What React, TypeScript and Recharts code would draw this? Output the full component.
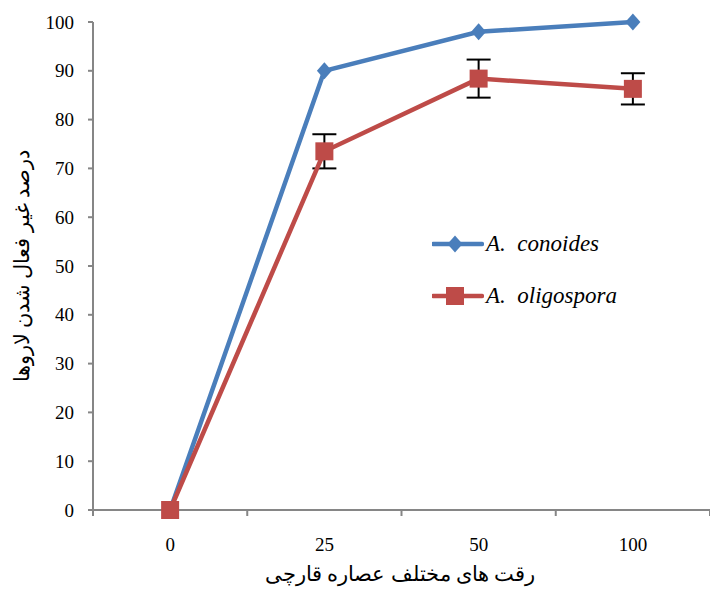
import React from 'react';
import { LineChart, Line, XAxis, YAxis, ErrorBar, Legend } from 'recharts';

// dilutions of the fungal extract (x categories)
const doses = ['0', '25', '50', '100'];
const conoides = [0, 90, 98, 100];
const oligospora = [0, 73.5, 88.4, 86.3];
const oligosporaErr = [0, 3.5, 3.9, 3.2];
const yTicks = [0, 10, 20, 30, 40, 50, 60, 70, 80, 90, 100];

const BLUE = '#4A7EBB';
const RED = '#BE4B48';
const AXIS = '#868686';
const FONT = '"Liberation Serif", "Times New Roman", "DejaVu Serif", serif';

const W = 710;
const H = 589;
const Y_W = 93;
const HALF_BAND = (W - Y_W) / doses.length / 2;

const data = doses.map((d, i) => ({
  idx: i,
  dose: d,
  conoides: conoides[i],
  oligospora: oligospora[i],
  err: oligosporaErr[i],
}));

const Diamond = (props: any) => {
  const { cx, cy } = props;
  if (cx == null || cy == null) return <g key={props.key} />;
  return (
    <path
      key={props.key}
      d={`M${cx},${cy - 8.5} L${cx + 7.5},${cy} L${cx},${cy + 8.5} L${cx - 7.5},${cy} Z`}
      fill={BLUE}
    />
  );
};

const Square = (props: any) => {
  const { cx, cy } = props;
  if (cx == null || cy == null) return <g key={props.key} />;
  return <rect key={props.key} x={cx - 9} y={cy - 9} width={18} height={18} fill={RED} />;
};

// ticks sit on category boundaries, labels in the middle of each band
const XTick = (props: any) => {
  const { x, y, payload } = props;
  const i = payload.value + 0.5;
  if (i < 0 || i >= doses.length) return <g />;
  return (
    <text x={x + HALF_BAND} y={y + 33} textAnchor="middle" fill="#000" style={{ fontSize: 19, fontFamily: FONT }}>
      {doses[i]}
    </text>
  );
};

const YTick = (props: any) => {
  const { x, y, payload } = props;
  return (
    <text x={x} y={y} textAnchor="end" dominantBaseline="central" fill="#000" style={{ fontSize: 19, fontFamily: FONT }}>
      {payload.value}
    </text>
  );
};

const LegendContent = () => {
  const items = [
    { name: 'A.  conoides', color: BLUE, shape: 'diamond' },
    { name: 'A.  oligospora', color: RED, shape: 'square' },
  ];
  return (
    <div style={{ fontFamily: FONT }}>
      {items.map((it) => (
        <div key={it.name} style={{ display: 'flex', alignItems: 'center', height: 52 }}>
          <svg width={52} height={20}>
            <line x1={1} y1={10} x2={50} y2={10} stroke={it.color} strokeWidth={4.5} strokeLinecap="round" />
            {it.shape === 'diamond' ? (
              <path d="M23,1.5 L30.5,10 L23,18.5 L15.5,10 Z" fill={it.color} />
            ) : (
              <rect x={14} y={1} width={18} height={18} fill={it.color} />
            )}
          </svg>
          <span style={{ fontStyle: 'italic', fontSize: 23, whiteSpace: 'pre', marginLeft: 2, color: '#000' }}>
            {it.name}
          </span>
        </div>
      ))}
    </div>
  );
};

const YTitle = (props: any) => {
  const { viewBox } = props;
  const cy = viewBox.y + viewBox.height / 2;
  return (
    <text x={22} y={cy} transform={`rotate(-90, 22, ${cy})`} textAnchor="middle" dominantBaseline="central"
      fill="#000" style={{ fontSize: 21, fontFamily: FONT }}>
      درصد غیر فعال شدن لاروها
    </text>
  );
};

const XTitle = (props: any) => {
  const { viewBox } = props;
  return (
    <text x={400} y={viewBox.y + 71} textAnchor="middle" fill="#000" style={{ fontSize: 21, fontFamily: FONT }}>
      رقت های مختلف عصاره قارچی
    </text>
  );
};

export default function App() {
  return (
    <div style={{ position: 'absolute', left: 0, top: 0, width: W, height: H, background: '#fff' }}>
      <LineChart width={W} height={H} data={data} margin={{ top: 22, right: 0, left: 0, bottom: 0 }}>
        <XAxis
          dataKey="idx"
          type="number"
          domain={[-0.5, 3.5]}
          ticks={[-0.5, 0.5, 1.5, 2.5, 3.5]}
          height={79}
          axisLine={{ stroke: AXIS, strokeWidth: 2 }}
          tickLine={{ stroke: AXIS, strokeWidth: 2 }}
          tickSize={6}
          tick={<XTick />}
          interval={0}
          label={{ content: <XTitle /> }}
        />
        <YAxis
          domain={[0, 100]}
          ticks={yTicks}
          width={Y_W}
          interval={0}
          axisLine={{ stroke: AXIS, strokeWidth: 2 }}
          tickLine={{ stroke: AXIS, strokeWidth: 2 }}
          tickSize={5}
          tickMargin={14}
          tick={<YTick />}
          label={{ content: <YTitle /> }}
        />
        <Legend
          layout="vertical"
          align="center"
          verticalAlign="middle"
          content={<LegendContent />}
          wrapperStyle={{ left: 432, top: 218, width: 240 }}
        />
        <Line
          dataKey="conoides"
          stroke={BLUE}
          strokeWidth={4.5}
          dot={<Diamond />}
          activeDot={false}
          isAnimationActive={false}
        />
        <Line
          dataKey="oligospora"
          stroke={RED}
          strokeWidth={4.5}
          dot={<Square />}
          activeDot={false}
          isAnimationActive={false}
        >
          <ErrorBar dataKey="err" direction="y" width={12} stroke="#000" strokeWidth={2} />
        </Line>
      </LineChart>
    </div>
  );
}
